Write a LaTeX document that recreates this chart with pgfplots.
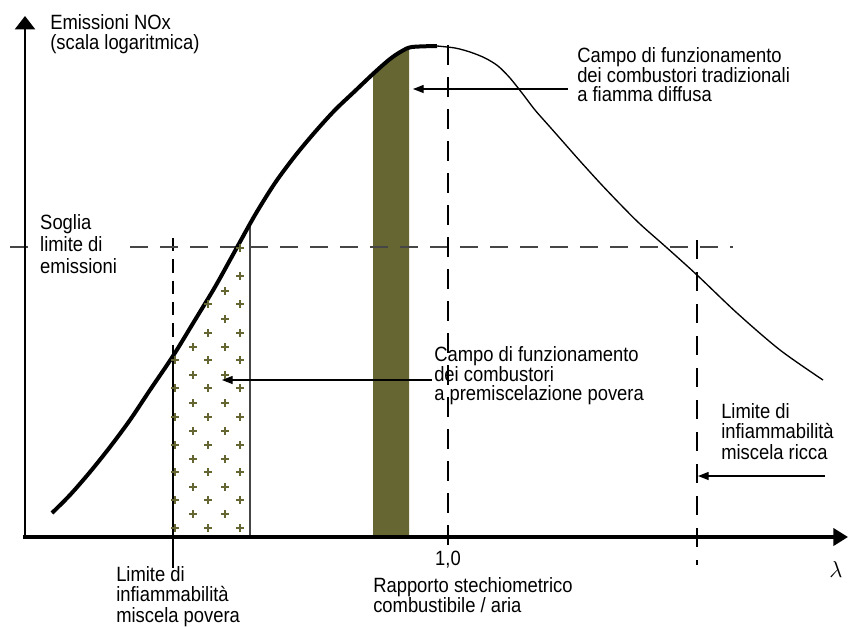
\documentclass[border=0pt]{standalone}
\usepackage{fontspec}
\setmainfont[FakeStretch=0.89]{Liberation Sans}
\usepackage{pgfplots}
\pgfplotsset{compat=1.18}
\usetikzlibrary{arrows.meta}
\definecolor{olivebar}{RGB}{102,102,51}
\definecolor{dashgray}{RGB}{70,70,70}
\tikzset{
  lbl/.style={anchor=north west, inner sep=0pt, align=left, font=\fontsize{15.5}{14.25}\selectfont},
}

\begin{document}
\begin{tikzpicture}
\useasboundingbox (0,0) rectangle (643.5pt,469.5pt);
\begin{axis}[
  at={(0,0)}, anchor=south west,
  scale only axis, width=643.5pt, height=469.5pt,
  xmin=0, xmax=858, ymin=0, ymax=626, y dir=reverse,
  hide axis, clip=false,
]
% diffusion-flame operating band
\addplot[fill=olivebar, draw=none] coordinates
  {(373,537) (373,73) (390,59) (402,51) (409,48) (409,537)} -- cycle;

% lean premix operating band (plus pattern)
\addplot[only marks, mark=+, mark size=3pt, olivebar, line width=0.8pt] coordinates {
  (175,360) (175,388) (175,417) (175,445) (175,472) (175,500) (175,528)
  (208,304) (208,333) (208,360) (208,388) (208,417) (208,445) (208,472) (208,500) (208,528)
  (240,248) (240,276) (240,304) (240,333) (240,360) (240,388) (240,417) (240,445) (240,472) (240,500) (240,528)
  (193,347) (193,375) (193,403) (193,431) (193,459) (193,487) (193,514)
  (225,291) (225,319) (225,347) (225,375) (225,403) (225,431) (225,459) (225,487) (225,514)
};
\addplot[line width=1.1pt, dashgray] coordinates {(250,223) (250,537)};
\addplot[line width=1.1pt, black] coordinates {(173,357) (173,568)};
\addplot[line width=1.1pt, black, dash pattern=on 10pt off 6pt] coordinates {(173,238) (173,357)};

% emission threshold
\addplot[line width=1.1pt, dashgray, dash pattern=on 13.5pt off 9pt] coordinates {(10,247) (733,247)};

% stoichiometric line and rich limit
\addplot[line width=2.2pt, dash pattern=on 15pt off 9pt] coordinates {(448,45) (448,548)};
\addplot[line width=1.1pt, dash pattern=on 14pt off 10pt] coordinates {(697,240) (697,565)};

% NOx curve
\addplot[line width=3pt, smooth, tension=0.5] coordinates {
  (52,513) (70,495) (90,472) (110,447) (130,420) (150,390) (173,356)
  (195,320) (215,287) (235,251) (255,215) (275,183) (295,156) (315,132)
  (335,110) (355,91) (374,73) (390,59) (402,51) (412,47) (437,46)
};
\addplot[line width=1pt, smooth, tension=0.5] coordinates {
  (437,46) (455,48) (470,52) (485,58) (498,66) (510,78) (522,93) (535,110)
  (550,127) (565,144) (580,161) (600,183) (620,204) (640,224) (666,247)
  (697,275) (737,313) (780,350) (823,380)
};

% axes
\addplot[line width=1.6pt, -{Triangle[width=15pt,length=10pt]}] coordinates {(25,537) (25,16)};
\addplot[line width=2.3pt, -{Triangle[width=13pt,length=11pt]}] coordinates {(23,537) (848,537)};

% annotation arrows
\addplot[line width=0.9pt, -{Triangle[length=8pt,width=6pt]}] coordinates {(568,89) (413,89)};
\addplot[line width=0.9pt, -{Triangle[length=8pt,width=6pt]}] coordinates {(432,380) (222,380)};
\addplot[line width=0.9pt, -{Triangle[length=8pt,width=6pt]}] coordinates {(825,476) (698,476)};

% texts
\node[lbl, font=\fontsize{15.5}{15}\selectfont] at (axis cs:50,14)
  {Emissioni NOx\\(scala logaritmica)};
\node[lbl] at (axis cs:577,47)
  {Campo di funzionamento\\dei combustori tradizionali\\a fiamma diffusa};
\node[lbl, fill=white, inner xsep=5pt, font=\fontsize{15.5}{16.5}\selectfont] at (axis cs:33.3,214)
  {Soglia\\limite di\\emissioni};
\node[lbl] at (axis cs:434,346)
  {Campo di funzionamento\\dei combustori\\a premiscelazione povera};
\node[lbl, font=\fontsize{15.5}{15.5}\selectfont] at (axis cs:721,403)
  {Limite di\\infiammabilità\\miscela ricca};
\node[anchor=base, inner sep=0pt, font=\fontsize{15.5}{16}\selectfont] at (axis cs:448,565) {1,0};
\node[lbl] at (axis cs:373,577)
  {Rapporto stechiometrico\\combustibile / aria};
\node[lbl, font=\fontsize{15.5}{15.5}\selectfont] at (axis cs:116,566)
  {Limite di\\infiammabilità\\miscela povera};

\node[anchor=base, inner sep=0pt, font=\fontsize{17}{17}\selectfont] at (axis cs:836,577) {$\lambda$};
\end{axis}
\end{tikzpicture}
\end{document}
